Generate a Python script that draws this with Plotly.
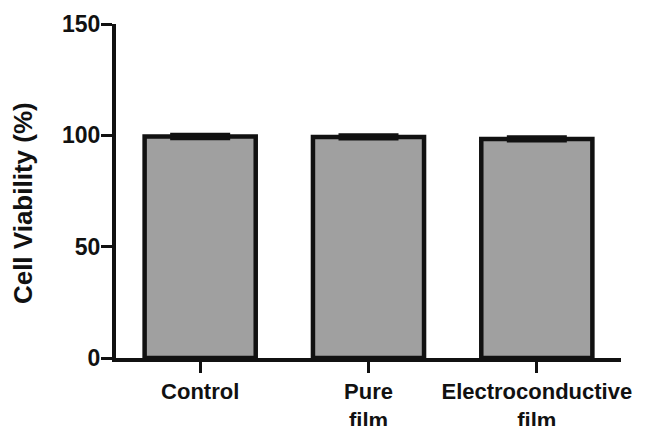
import plotly.graph_objects as go

categories = ["Control", "Pure<br>film", "Electroconductive<br>film"]
viability = [99.5, 99.3, 98.4]
sd = [0.9, 0.8, 0.8]
y_ticks = [0, 50, 100, 150]

FONT = "Liberation Sans, Arial, sans-serif"

fig = go.Figure()
fig.add_trace(go.Bar(
    x=[0, 1, 2],
    y=viability,
    width=0.66,
    marker=dict(color="#a0a0a0", line=dict(color="#111111", width=4.5)),
    error_y=dict(type="data", array=sd, visible=True, color="#111111",
                 thickness=3.5, width=30),
))

fig.update_layout(
    width=650, height=426,
    margin=dict(l=116, r=29, t=24, b=68, autoexpand=False),
    paper_bgcolor="white", plot_bgcolor="white",
    showlegend=False,
    font=dict(family=FONT, color="#111111"),
    xaxis=dict(
        range=[-0.5, 2.5], automargin=False,
        tickmode="array", tickvals=[0, 1, 2],
        ticktext=["<b>" + c.replace("<br>", "</b><br><b>") + "</b>" for c in categories],
        ticks="outside", ticklen=11, tickwidth=3, tickcolor="#111111",
        showline=True, linecolor="#111111", linewidth=4,
        showgrid=False, zeroline=False,
        tickfont=dict(family=FONT, size=22, color="#111111"),
    ),
    yaxis=dict(
        range=[0, 150], automargin=False,
        tickmode="array", tickvals=y_ticks, ticktext=[f"<b>{v}</b>" for v in y_ticks],
        ticks="outside", ticklen=11, tickwidth=3, tickcolor="#111111",
        ticklabelstandoff=-4,
        showline=True, linecolor="#111111", linewidth=4,
        showgrid=False, zeroline=False,
        tickfont=dict(family=FONT, size=23, color="#111111"),
    ),
    annotations=[dict(
        text="<b>Cell Viability (%)</b>", textangle=-90,
        xref="paper", yref="paper", x=-0.184, y=0.464,
        xanchor="center", yanchor="middle", showarrow=False,
        font=dict(family=FONT, size=26, color="#111111"),
    )],
)

fig.write_html("out.html")
